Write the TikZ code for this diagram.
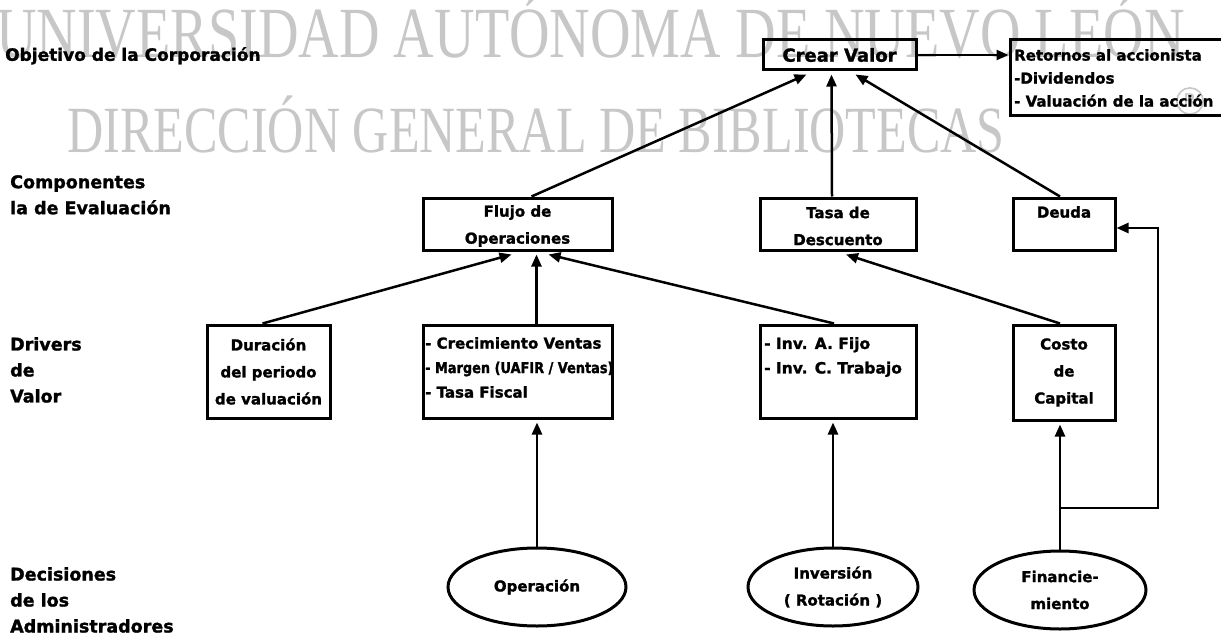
\documentclass[tikz,border=0pt]{standalone}
\usepackage{fontspec}
\setmainfont{DejaVu Sans}
\newfontfamily\heavy[FakeBold=1.5]{DejaVu Sans Bold}
\newfontfamily\heavynarrow[FakeBold=1.5,FakeStretch=0.86]{DejaVu Sans Bold}
\newfontfamily\wmfont[FakeStretch=0.78]{Liberation Serif}
\newfontfamily\wmfontB[FakeStretch=0.76]{Liberation Serif}
\usetikzlibrary{arrows.meta,shapes.geometric}

\begin{document}
\begin{tikzpicture}[x=1pt,y=-1pt,
  lbl/.style={font=\heavy\fontsize{17.5}{26}\selectfont, align=left, anchor=north west, inner sep=0pt},
  wm/.style={text=black!22, inner sep=0pt, anchor=base west},
  box/.style={draw, line width=3pt, rectangle, inner sep=0pt},
  btxt/.style={font=\heavy\fontsize{15}{27}\selectfont, inner sep=0pt},
  ltxt/.style={font=\heavy\fontsize{15}{24.5}\selectfont, inner sep=0pt, align=left, anchor=north west},
  oval/.style={draw, line width=3pt, ellipse, inner sep=0pt},
  arr/.style={line width=2.5pt, -{Triangle[length=12pt,width=10pt]}},
]
\useasboundingbox (0,0) rectangle (1221,642);

% watermark lettering behind the chart
\node[wm, font=\wmfont\fontsize{72}{72}\selectfont] (wmA) at (-4,58) {UNIVERSIDAD AUTÓNOMA DE NUEVO LEÓN};
\node[wm, font=\wmfontB\fontsize{66}{66}\selectfont] (wmB) at (67,152) {DIRECCIÓN GENERAL DE BIBLIOTECAS};
\node[circle, draw=black!22, line width=1.6pt, text=black!22, font=\fontsize{19}{19}\selectfont,
      inner sep=2.5pt] (wmR) at (1190,101) {R};

% level labels
\node[lbl, font=\heavy\fontsize{17}{20}\selectfont] (l1) at (5,47) {Objetivo de la Corporación};
\node[lbl] (l2) at (10,175) {Componentes\\la de Evaluación};
\node[lbl] (l3) at (10,337) {Drivers\\de\\Valor};
\node[lbl] (l4) at (10,567) {Decisiones\\de los\\Administradores};

% top level
\node[box, minimum width=153pt, minimum height=30pt] (crear) at (839.5,55)
  {\heavy\fontsize{18}{20}\selectfont Crear Valor};
\node[box, minimum width=230pt, minimum height=75pt] (ret) at (1125,77.5) {};
\node[ltxt, font=\heavy\fontsize{15}{23}\selectfont] (rettxt) at (1014,49)
  {Retornos al accionista\\-Dividendos\\- Valuación de la acción};

% components of valuation
\node[box, minimum width=189pt, minimum height=52pt] (flujo) at (517.5,224) {};
\node[btxt, align=center] (flujotxt) at ([yshift=-2pt]flujo) {Flujo de\\Operaciones};
\node[box, minimum width=156pt, minimum height=52pt] (tasa) at (838,224) {};
\node[btxt, align=center] (tasatxt) at ([yshift=-2pt]tasa) {Tasa de\\Descuento};
\node[box, minimum width=102pt, minimum height=52pt] (deuda) at (1064,224) {};
\node[btxt, anchor=north] (deudatxt) at (1064,206) {Deuda};

% value drivers
\node[box, minimum width=123pt, minimum height=93pt] (dur) at (268.5,371.5) {};
\node[btxt, align=center] (durtxt) at (dur) {Duración\\del periodo\\de valuación};
\node[box, minimum width=189pt, minimum height=93pt] (crec) at (517.5,371.5) {};
\node[ltxt] (crectxt) at (425,337)
  {- Crecimiento Ventas\\{\heavynarrow - Margen (UAFIR / Ventas)}\\- Tasa Fiscal};
\node[box, minimum width=156pt, minimum height=93pt] (inv) at (838,371.5) {};
\node[ltxt, font=\heavy\fontsize{15.5}{24.5}\selectfont] (invtxt) at (764,337)
  {- Inv. A. Fijo\\- Inv. C. Trabajo};
\node[box, minimum width=102pt, minimum height=95pt] (costo) at (1064,372.5) {};
\node[btxt, align=center] (costotxt) at (costo) {Costo\\de\\Capital};

% management decisions
\node[oval, minimum width=178pt, minimum height=78pt, btxt] (op) at (537,587) {Operación};
\node[oval, minimum width=170pt, minimum height=78pt, btxt, align=center] (invd) at (833,587) {Inversión\\( Rotación )};
\node[oval, minimum width=172pt, minimum height=78pt, btxt, align=center] (fin) at (1060,590) {Financie-\\miento};

% connectors
\draw[arr] (crear.east) -- (crear.east -| ret.west);
\draw[arr] ([xshift=14pt]flujo.north) -- ([xshift=-33pt,yshift=-3pt]crear.south);
\draw[arr] ([xshift=-6pt]tasa.north) -- ([xshift=-8pt,yshift=-3pt]crear.south);
\draw[arr] ([xshift=-4pt]deuda.north) -- ([xshift=16pt,yshift=-3pt]crear.south);

\draw[arr] ([xshift=-6pt]dur.north) -- ([xshift=-6pt,yshift=-3pt]flujo.south);
\draw[arr] ([xshift=19pt]crec.north) -- ([xshift=19pt,yshift=-3pt]flujo.south);
\draw[arr] ([xshift=-4pt]inv.north) -- ([xshift=31pt,yshift=-3pt]flujo.south);
\draw[arr] ([xshift=-4pt]costo.north) -- ([xshift=8pt,yshift=-3pt]tasa.south);

\draw[arr] (op.north) -- ([yshift=-3pt]op.north |- crec.south);
\draw[arr] (invd.north) -- ([yshift=-3pt]invd.north |- inv.south);
\draw[arr] (fin.north) -- ([yshift=-3pt]fin.north |- costo.south);

% financing also feeds the debt component
\coordinate (jn) at (1060,508);
\coordinate (c1) at (1158,508);
\coordinate (c2) at (1158,228);
\draw[arr] (jn) -- (c1) -- (c2) -- (c2 -| deuda.east);
\end{tikzpicture}
\end{document}
